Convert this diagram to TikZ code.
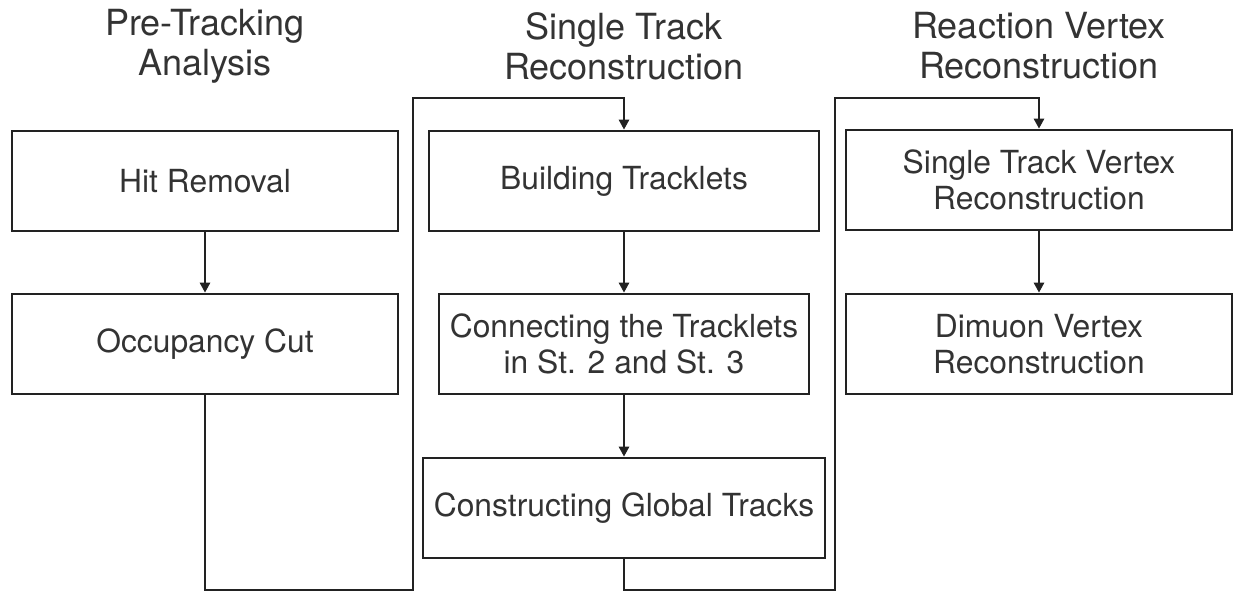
\documentclass[tikz,border=0pt]{standalone}
\usepackage{fontspec}
\setmainfont{TeX Gyre Heros}
\usepackage{xcolor}
\usepackage{tikz}
\usetikzlibrary{positioning,arrows.meta}

\definecolor{inkline}{HTML}{222222}
\definecolor{inktext}{HTML}{333333}

\begin{document}
\begin{tikzpicture}[
  x=0.5pt,y=-0.5pt,
  stage/.style={draw=inkline,line width=1.3pt,minimum height=50pt,inner sep=2pt,
    align=center,text=inktext,font=\fontsize{15.9}{18}\selectfont},
  head/.style={align=center,text=inktext,font=\fontsize{18}{20}\selectfont},
  >={Triangle[length=5pt,width=5pt]},
  flow/.style={->,draw=inkline,line width=1.3pt}
]
\useasboundingbox (0,0) rectangle (1238,592);
% column headings
\node[head] (hpre) at (205,46)  {Pre-Tracking\\Analysis};
\node[head] (hsgl) at (624,46)  {Single Track\\Reconstruction};
\node[head] (hvtx) at (1039,46) {Reaction Vertex\\Reconstruction};
% pre-tracking
\node[stage,minimum width=193pt] (hit) at (205,181) {Hit Removal};
\node[stage,minimum width=193pt] (occ) at (205,344) {Occupancy Cut};
% single track
\node[stage,minimum width=195pt] (build) at (624,181) {Building Tracklets};
\node[stage,minimum width=185pt] (conn)  at (624,344) {Connecting the Tracklets\\in St. 2 and St. 3};
\node[stage,minimum width=201pt] (glob)  at (624,508) {Constructing Global Tracks};
% vertexing
\node[stage,minimum width=193pt] (stv) at (1039,180) {Single Track Vertex\\Reconstruction};
\node[stage,minimum width=193pt] (dim) at (1039,344) {Dimuon Vertex\\Reconstruction};
% turning points of the links between columns
\coordinate (lowA) at (413,590);
\coordinate (topA) at (413,98);
\coordinate (lowB) at (835,590);
\coordinate (topB) at (835,98);
% steps inside a column
\draw[flow] (hit) -- (occ);
\draw[flow] (build) -- (conn);
\draw[flow] (conn) -- (glob);
\draw[flow] (stv) -- (dim);
% hand over to the next column
\draw[flow] (occ.south) |- (lowA) -- (topA) -| (build.north);
\draw[flow] (glob.south) |- (lowB) -- (topB) -| (stv.north);
\end{tikzpicture}
\end{document}
